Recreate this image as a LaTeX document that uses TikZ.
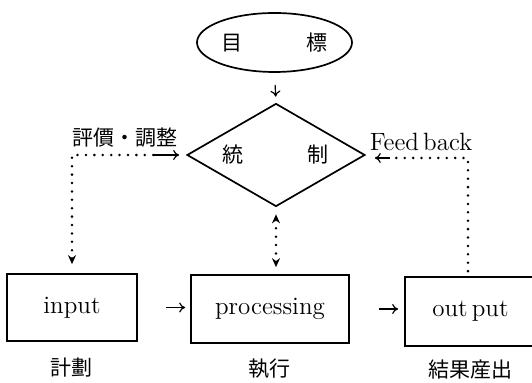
\documentclass[tikz,border=0pt]{standalone}
\usepackage{fontspec}
\newfontfamily\cjk{Noto Sans CJK JP}
\usetikzlibrary{shapes.geometric,arrows.meta}
\begin{document}
\begin{tikzpicture}[x=0.5pt,y=-0.5pt,
  every node/.style={font=\fontsize{12.5}{14}\selectfont},
  jp/.style={font=\cjk\fontsize{10.5}{12}\selectfont},
  frame/.style={draw,line width=0.85pt,inner sep=0pt},
  link/.style={line width=0.6pt,-{To[length=3pt,width=5pt]}},
  dots/.style={line width=1.4pt,line cap=round,dash pattern=on 0pt off 4.2pt},
  dottip/.tip={Stealth[length=4.5pt,width=4pt]}
]
\clip (0,0) rectangle (532,383);

% goal and control
\node[frame,ellipse,minimum width=77.5pt,minimum height=29.5pt,jp] (goal) at (274.5,42.5) {目\hspace{32pt}標};
\node[frame,diamond,aspect=1.73,minimum width=89pt,minimum height=51.5pt,jp] (ctrl) at (276,155) {統\hspace{32pt}制};

% process chain
\node[frame,minimum width=65pt,minimum height=33.5pt] (input) at (72,307.5) {input};
\node[frame,minimum width=79pt,minimum height=34pt] (proc) at (270,309) {processing};
\node[frame,minimum width=65.5pt,minimum height=34.5pt] (out) at (470.5,311.5) {out\,put};

% captions
\node[jp] (plan) at ([yshift=-13pt]input.south) {計劃};
\node[jp] (exec) at ([yshift=-12.25pt]proc.south) {執行};
\node[jp] (res) at ([yshift=-11.5pt]out.south) {結果産出};
\node[jp] (eval) at (125,138) {評價・調整};
\node (fb) at (421,142) {Feed\,back};

% forward arrows
\draw[link,shorten <=6pt,shorten >=3pt] (goal.south) -- (ctrl.north);
\draw[link,shorten <=14pt,shorten >=2.5pt] (input.east) -- (input.east -| proc.west);
\draw[link,shorten <=14.5pt,shorten >=3pt] (proc.east) -- (proc.east -| out.west);

% control <-> processing
\draw[dots,dottip-dottip,shorten <=3.5pt,shorten >=3.5pt] (ctrl.south) -- (ctrl.south |- proc.north);

% evaluation loop back to input
\coordinate (lj) at ([xshift=-16pt]ctrl.west);
\draw[dots,dottip-,shorten <=4.5pt] (input.north) |- (lj);
\draw[link,shorten >=3.5pt] (lj) -- (ctrl.west);

% feedback from output
\coordinate (ob) at ([xshift=-1.25pt]out.north);
\coordinate (rj) at ([xshift=12pt,yshift=-1.5pt]ctrl.east);
\draw[dots,shorten <=2.5pt] (ob) |- (rj);
\draw[link,shorten >=4.5pt] (rj) -- ([yshift=-1.5pt]ctrl.east);
\end{tikzpicture}
\end{document}
